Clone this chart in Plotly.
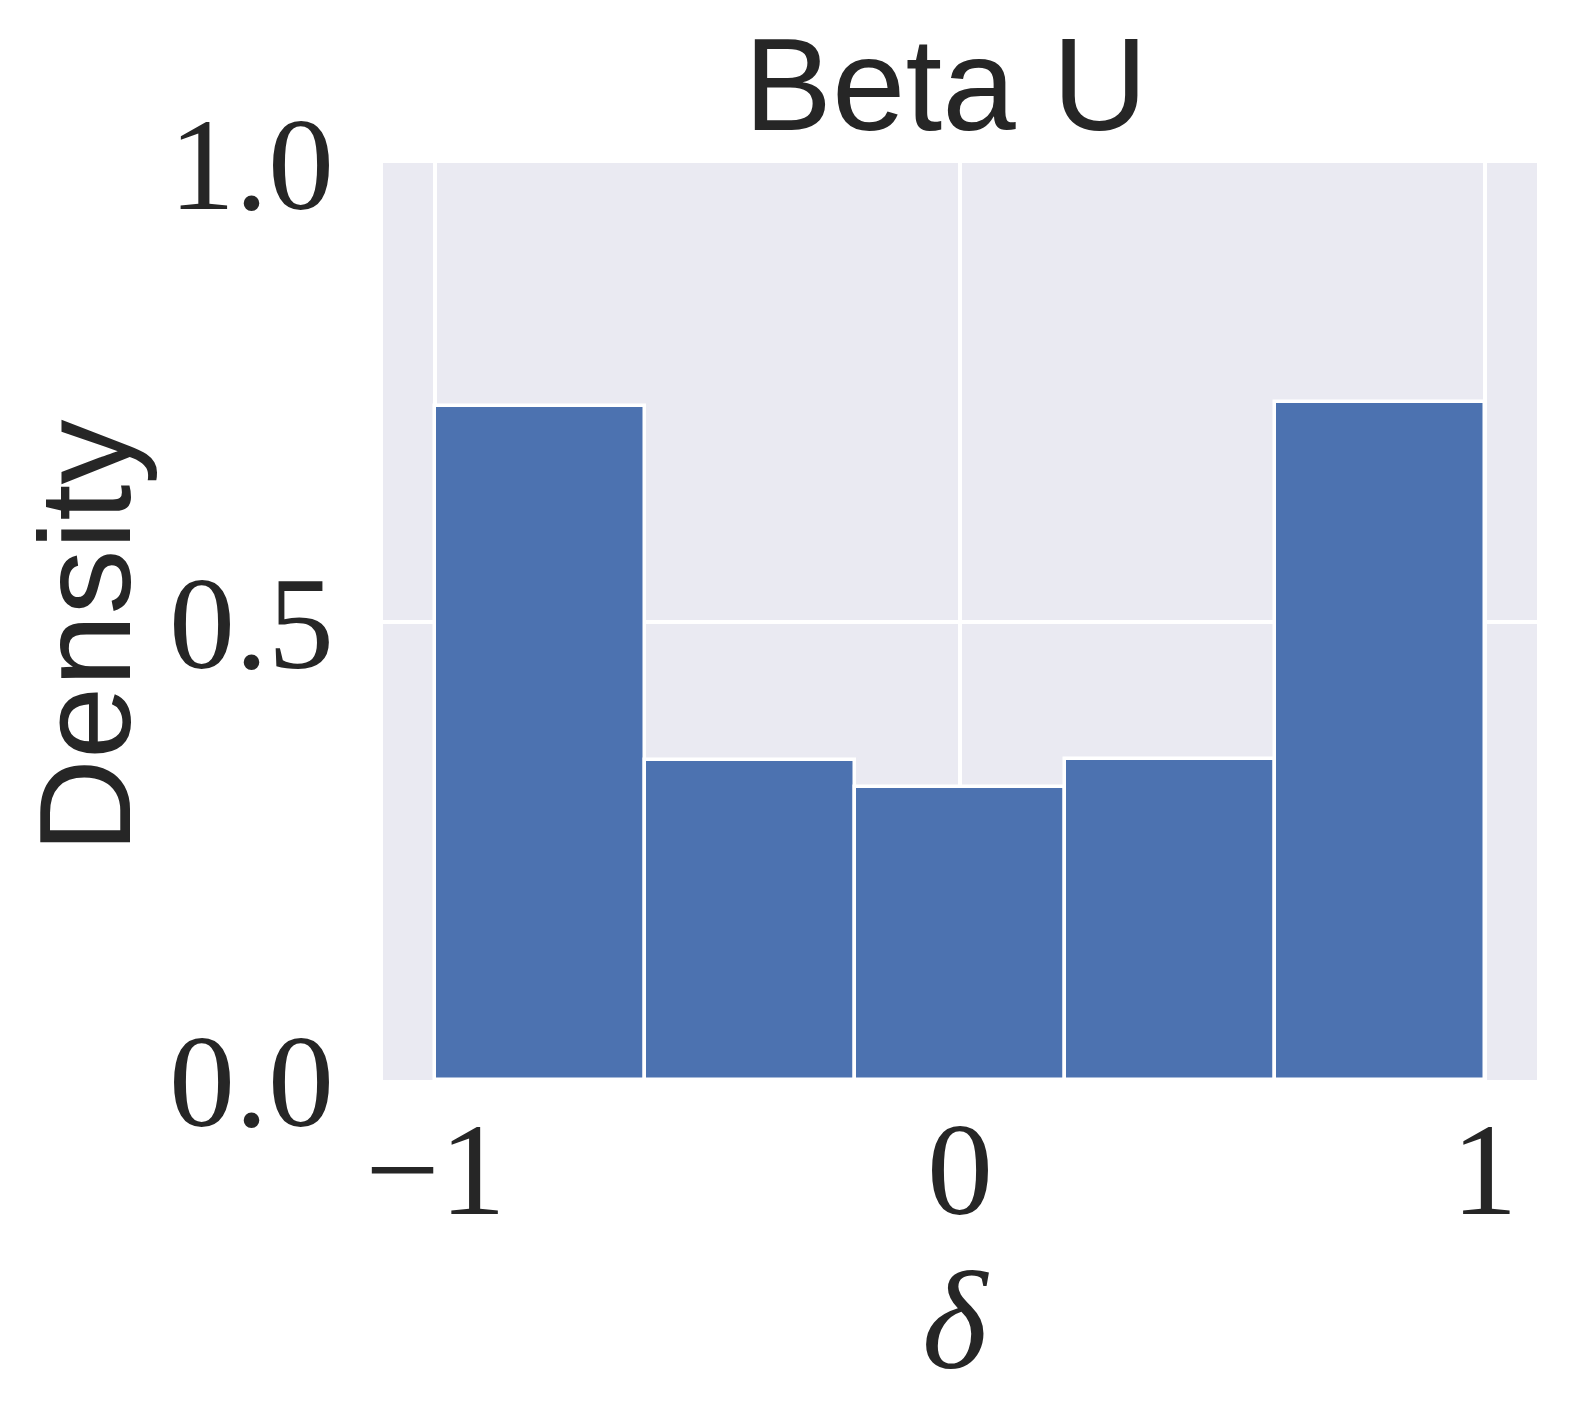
import plotly.graph_objects as go

# Data
bin_edges = [-1.0, -0.6, -0.2, 0.2, 0.6, 1.0]
densities = [0.735, 0.349, 0.319, 0.350, 0.739]
x_tick_vals = [-1, 0, 1]
x_tick_text = ["\u22121", "0", "1"]
y_tick_vals = [0.0, 0.5, 1.0]
y_tick_text = ["0.0", "0.5", "1.0"]
title_text = "Beta U"
y_title = "Density"
x_title = "<i>\u03b4</i>"

centers = [(a + b) / 2 for a, b in zip(bin_edges[:-1], bin_edges[1:])]
widths = [b - a for a, b in zip(bin_edges[:-1], bin_edges[1:])]

OFF = 8  # default page body margin
W, H = 1574 - OFF, 1427 - OFF
L, R, T, B = 383 - OFF, 37, 163 - OFF, 347
pw, ph = W - L - R, H - T - B

def px_x(px):
    return (px - OFF - L) / pw

def px_y(py):
    return (OFF + H - B - py) / ph

fig = go.Figure()
fig.add_trace(go.Bar(
    x=centers, y=densities, width=widths,
    marker=dict(color="#4C72B0", line=dict(color="white", width=3.5)),
    showlegend=False,
))

tick_font = dict(family="Liberation Serif, DejaVu Serif, serif", size=132, color="#262626")
sans = "Liberation Sans, Arial, sans-serif"

fig.update_layout(
    width=W, height=H,
    margin=dict(l=L, r=R, t=T, b=B, pad=0),
    paper_bgcolor="white",
    plot_bgcolor="#EAEAF2",
    bargap=0,
    xaxis=dict(
        range=[-1.1, 1.1], tickvals=x_tick_vals, ticktext=x_tick_text,
        showgrid=True, gridcolor="white", gridwidth=3.5,
        zeroline=False, showline=False, automargin=False,
        ticks="", ticklabelstandoff=1,
        tickfont=tick_font,
    ),
    yaxis=dict(
        range=[0, 1.0], tickvals=y_tick_vals, ticktext=y_tick_text,
        showgrid=True, gridcolor="white", gridwidth=3.5,
        zeroline=False, showline=False, automargin=False,
        ticks="", ticklabelstandoff=48,
        tickfont=tick_font,
    ),
    annotations=[
        dict(text=title_text, xref="paper", yref="paper",
             x=px_x(946), y=px_y(84), xanchor="center", yanchor="middle",
             showarrow=False, font=dict(family=sans, size=132, color="#262626")),
        dict(text=y_title, xref="paper", yref="paper", textangle=-90,
             x=px_x(85), y=px_y(637), xanchor="center", yanchor="middle",
             showarrow=False, font=dict(family=sans, size=130, color="#262626")),
        dict(text=x_title, xref="paper", yref="paper",
             x=px_x(955), y=px_y(1320), xanchor="center", yanchor="middle",
             showarrow=False, font=dict(family="Liberation Serif, DejaVu Serif, serif", size=140, color="#262626")),
    ],
)

fig.write_html("out.html")
